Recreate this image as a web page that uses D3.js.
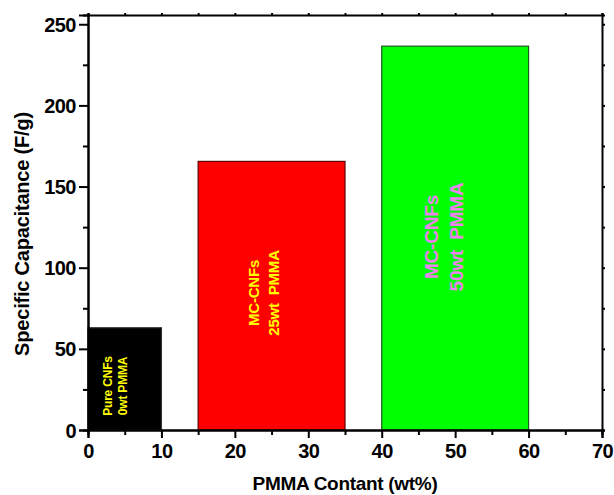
<!DOCTYPE html>
<html>
<head>
<meta charset="utf-8">
<script src="https://cdn.jsdelivr.net/npm/d3@7"></script>
<style>
  body { margin: 0; background: #fff; }
  text { font-family: "Liberation Sans", Arial, sans-serif; font-weight: bold; }
</style>
</head>
<body>
<div id="chart"></div>
<script>
// bar data: x ranges in wt% and capacitance values
const barStart = [0, 15, 40];
const barEnd = [10, 35, 60];
const capacitance = [63, 165.5, 236.5];
const barFill = ["#000000", "#ff0000", "#00ff00"];
const barStroke = ["#333333", "#5a0000", "#1d5a1d"];
const labelLine1 = ["Pure CNFs", "MC-CNFs", "MC-CNFs"];
const labelLine2 = ["0wt PMMA", "25wt  PMMA", "50wt  PMMA"];
const labelColor = ["#ffff00", "#ffff00", "#ee82ee"];

const xTicks = [0, 10, 20, 30, 40, 50, 60, 70];
const yTicks = [0, 50, 100, 150, 200, 250];

// label layout (pixels): baseline offsets from bar centre, vertical centre, font size
const labelLayout = [
    { b1: -12.5, b2: 2.5, cy: 386, size: 12 },
    { b1: -13, b2: 7, cy: 293, size: 15 },
    { b1: -17, b2: 8, cy: 237, size: 19 }
];

const width = 614, height = 495;
const margin = { top: 15, right: 12, bottom: 65, left: 88 };

const svg = d3.select("#chart")
    .append("svg")
    .attr("width", width)
    .attr("height", height);

const x = d3.scaleLinear().domain([0, 70]).range([margin.left, width - margin.right]);
const y = d3.scaleLinear().domain([0, 255.7]).range([height - margin.bottom, margin.top]);

// bars
const data = capacitance.map((v, i) => ({ i, v, x0: barStart[i], x1: barEnd[i] }));

svg.selectAll("rect.bar")
    .data(data)
    .enter()
    .append("rect")
    .attr("class", "bar")
    .attr("x", d => x(d.x0))
    .attr("y", d => y(d.v))
    .attr("width", d => x(d.x1) - x(d.x0))
    .attr("height", d => y(0) - y(d.v))
    .attr("fill", d => barFill[d.i])
    .attr("stroke", d => barStroke[d.i])
    .attr("stroke-width", 1.2);

// rotated labels inside bars
const labels = svg.selectAll("g.lab")
    .data(data)
    .enter()
    .append("g")
    .attr("class", "lab")
    .attr("transform", d => {
        const cx = (x(d.x0) + x(d.x1)) / 2;
        return `translate(${cx}, ${labelLayout[d.i].cy}) rotate(-90)`;
    });

labels.append("text")
    .attr("text-anchor", "middle")
    .attr("y", d => labelLayout[d.i].b1)
    .attr("font-size", d => labelLayout[d.i].size)
    .attr("fill", d => labelColor[d.i])
    .attr("letter-spacing", "-0.2")
    .style("white-space", "pre")
    .text(d => labelLine1[d.i]);

labels.append("text")
    .attr("text-anchor", "middle")
    .attr("y", d => labelLayout[d.i].b2)
    .attr("font-size", d => labelLayout[d.i].size)
    .attr("fill", d => labelColor[d.i])
    .attr("letter-spacing", "-0.2")
    .style("white-space", "pre")
    .text(d => labelLine2[d.i]);

// axes
const gx = svg.append("g")
    .attr("transform", `translate(0, ${y(0)})`)
    .call(d3.axisBottom(x).tickValues(xTicks).tickSize(8).tickPadding(6).tickFormat(d3.format("d")));

const gxMinor = svg.append("g")
    .attr("transform", `translate(0, ${y(0)})`)
    .call(d3.axisBottom(x).tickValues(d3.range(5, 70, 10)).tickSize(5).tickFormat(""));

const gy = svg.append("g")
    .attr("transform", `translate(${x(0)}, 0)`)
    .call(d3.axisLeft(y).tickValues(yTicks).tickSize(9).tickPadding(3).tickFormat(d3.format("d")));

const gyMinor = svg.append("g")
    .attr("transform", `translate(${x(0)}, 0)`)
    .call(d3.axisLeft(y).tickValues(d3.range(25, 250, 50)).tickSize(5).tickFormat(""));

const gTop = svg.append("g")
    .attr("transform", `translate(0, ${margin.top})`)
    .call(d3.axisTop(x).tickValues(d3.range(0, 71, 5)).tickSize(2).tickFormat(""));

const gRight = svg.append("g")
    .attr("transform", `translate(${width - margin.right}, 0)`)
    .call(d3.axisRight(y).tickValues(d3.range(0, 251, 25)).tickSize(3).tickFormat(""));

[gx, gxMinor, gy, gyMinor, gTop, gRight].forEach(g => {
    g.select(".domain").attr("stroke", "#000").attr("stroke-width", 2);
    g.selectAll(".tick line").attr("stroke", "#000").attr("stroke-width", 2);
});

gx.selectAll(".tick text")
    .attr("font-size", 20)
    .attr("letter-spacing", "-0.5")
    .attr("fill", "#000");

gy.selectAll(".tick text")
    .attr("font-size", 20)
    .attr("letter-spacing", "-0.5")
    .attr("fill", "#000")
    .attr("dy", "0.35em");

// axis titles
svg.append("text")
    .attr("x", (x(0) + x(70)) / 2)
    .attr("y", 490)
    .attr("text-anchor", "middle")
    .attr("font-size", 19)
    .attr("letter-spacing", "-0.3")
    .text("PMMA Contant (wt%)");

svg.append("text")
    .attr("transform", `translate(29, 234) rotate(-90)`)
    .attr("text-anchor", "middle")
    .attr("font-size", 20)
    .attr("letter-spacing", "-0.2")
    .text("Specific Capacitance (F/g)");
</script>
</body>
</html>
